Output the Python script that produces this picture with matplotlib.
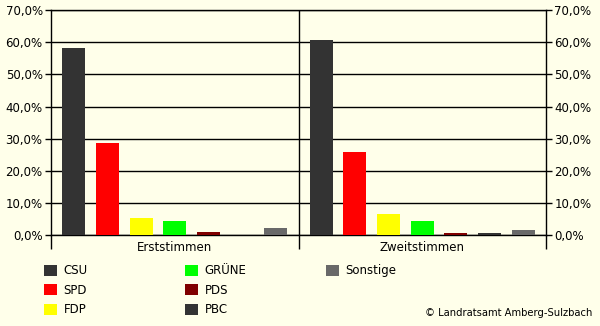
import matplotlib.pyplot as plt
import numpy as np
from matplotlib.patches import Patch
from matplotlib.ticker import FuncFormatter

# Stimmenanteile in Prozent
gruppen = ["Erststimmen", "Zweitstimmen"]
parteien = ["CSU", "SPD", "FDP", "GRÜNE", "PDS", "PBC", "Sonstige"]
erststimmen = [58.1, 28.6, 5.3, 4.5, 0.9, 0.0, 2.2]
zweitstimmen = [60.6, 25.9, 6.6, 4.5, 0.6, 0.6, 1.6]
farben = ["#333333", "#ff0000", "#ffff00", "#00ff00", "#800000", "#333333", "#696969"]

bg = "#ffffea"
plt.rcParams["font.family"] = ["DejaVu Sans"]

fig = plt.figure(figsize=(6, 3.26), dpi=100, facecolor=bg)
ax = fig.add_axes([0.085, 0.279, 0.825, 0.69])
ax.set_facecolor(bg)

x = np.arange(len(gruppen))
step = 0.136
width = 0.093
werte = np.array([erststimmen, zweitstimmen])
for i, partei in enumerate(parteien):
    ax.bar(x + (i - 3) * step, werte[:, i], width=width, color=farben[i],
           zorder=3, label=partei)

ax.set_xlim(-0.5, 1.5)
ax.set_ylim(0, 70)
ax.set_yticks(np.arange(0, 71, 10))
ax.yaxis.set_major_formatter(FuncFormatter(lambda v, p: f"{v:.1f}%".replace(".", ",")))
ax.grid(axis="y", color="black", linewidth=1, zorder=1)
ax.axvline(0.5, color="black", linewidth=1, zorder=1)

ax.set_xticks(x)
ax.set_xticklabels(gruppen)
ax.set_xticks([-0.5, 0.5, 1.5], minor=True)
ax.tick_params(axis="x", which="major", length=0, pad=4, labelsize=8.5)
ax.tick_params(axis="x", which="minor", length=10, width=1, color="black")
ax.tick_params(axis="y", which="major", length=4, width=1, labelsize=8.5,
               left=True, right=True, labelleft=True, labelright=True, pad=2)
for s in ax.spines.values():
    s.set_color("black")
    s.set_linewidth(1)

# Legende in drei Spalten: 3 / 3 / 1 Einträge
spalten = [(0, 3, 0.055), (3, 6, 0.29), (6, 7, 0.525)]
for a, b, xpos in spalten:
    handles = [Patch(facecolor=c, edgecolor="none") for c in farben[a:b]]
    fig.legend(handles, parteien[a:b], loc="upper left",
               bbox_to_anchor=(xpos, 0.222), frameon=False, fontsize=8.5,
               handlelength=1.1, handleheight=1.1, handletextpad=0.6,
               labelspacing=0.55)

fig.text(0.988, 0.04, "© Landratsamt Amberg-Sulzbach", ha="right", va="center",
         fontsize=7.2)

plt.savefig("out.png", dpi=100, facecolor=bg)
